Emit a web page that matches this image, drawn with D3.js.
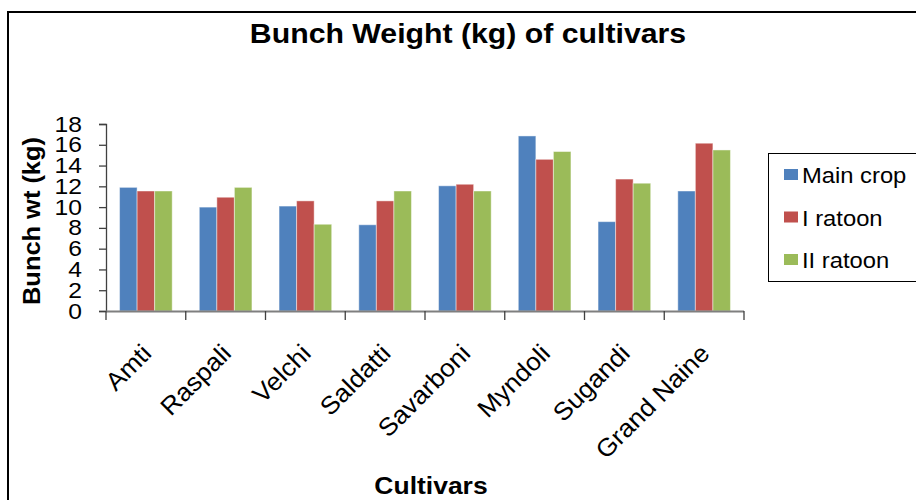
<!DOCTYPE html>
<html>
<head>
<meta charset="utf-8">
<script src="https://cdn.jsdelivr.net/npm/d3@7"></script>
<style>
	body { margin: 0; background: #fff; }
	text { font-family: "Liberation Sans", Arial, sans-serif; fill: #000; }
</style>
</head>
<body>
<div id="chart"></div>
<script>
var cultivars = ["Amti", "Raspali", "Velchi", "Saldatti", "Savarboni", "Myndoli", "Sugandi", "Grand Naine"];
var seriesNames = ["Main crop", "I ratoon", "II ratoon"];
var mainCrop = [11.9, 10.0, 10.1, 8.3, 12.05, 16.85, 8.6, 11.55];
var ratoon1 = [11.55, 10.95, 10.6, 10.6, 12.2, 14.6, 12.7, 16.15];
var ratoon2 = [11.55, 11.9, 8.35, 11.55, 11.55, 15.35, 12.3, 15.5];
var yTicks = [0, 2, 4, 6, 8, 10, 12, 14, 16, 18];
var colors = ["#4f81bd", "#c0504d", "#9bbb59"];

var seriesValues = [mainCrop, ratoon1, ratoon2];

var width = 916, height = 500;
var margin = { top: 124, right: 172, bottom: 189, left: 106 };
var SX = 1.08; // the reference text is a little wider than its height suggests

var svg = d3.select("#chart").append("svg")
	.attr("width", width)
	.attr("height", height);

// widen a text by a factor
function stretch(sel, k) {
	sel.each(function() {
		var len = this.getComputedTextLength();
		d3.select(this)
			.attr("textLength", len * (k || SX))
			.attr("lengthAdjust", "spacingAndGlyphs");
	});
}

// frame
svg.append("rect")
	.attr("x", 8)
	.attr("y", 12)
	.attr("width", 1000)
	.attr("height", 1000)
	.attr("fill", "none")
	.attr("stroke", "#000")
	.attr("stroke-width", 2);

var x = d3.scaleBand()
	.domain(cultivars)
	.range([margin.left, width - margin.right])
	.paddingInner(0.34)
	.paddingOuter(0.17);

var xs = d3.scaleBand()
	.domain(seriesNames)
	.range([0, x.bandwidth()]);

var y = d3.scaleLinear()
	.domain([0, 18])
	.range([height - margin.bottom, margin.top]);

// bars
var groups = svg.selectAll(".group")
	.data(cultivars)
	.enter().append("g")
	.attr("class", "group")
	.attr("transform", function(d) { return "translate(" + x(d) + ",0)"; });

groups.selectAll("rect")
	.data(function(d, i) {
		return seriesNames.map(function(s, j) { return { series: s, idx: j, value: seriesValues[j][i] }; });
	})
	.enter().append("rect")
	.attr("x", function(d) { return xs(d.series); })
	.attr("y", function(d) { return y(d.value); })
	.attr("width", xs.bandwidth())
	.attr("height", function(d) { return y(0) - y(d.value); })
	.attr("fill", function(d) { return colors[d.idx]; })
	.attr("stroke", "rgba(255,255,255,0.45)")
	.attr("stroke-width", 1);

// y axis
var yAxis = svg.append("g")
	.attr("class", "axis axis--y")
	.attr("transform", "translate(" + margin.left + ",0)")
	.call(d3.axisLeft(y).tickValues(yTicks).tickSize(7).tickPadding(17));

yAxis.select(".domain").attr("stroke", "#404040").attr("stroke-width", 1.3);
yAxis.selectAll(".tick line").attr("stroke", "#404040").attr("stroke-width", 1.3);
yAxis.selectAll(".tick text")
	.attr("font-size", 22)
	.attr("font-family", "'Liberation Sans', Arial, sans-serif")
	.attr("fill", "#000")
	.call(stretch, 1.12);

// x axis: line and ticks at category boundaries
var gap = (x.step() - x.bandwidth()) / 2;
var bounds = cultivars.map(function(c) { return x(c) - gap; }).concat([x.range()[1]]);
var xAxis = svg.append("g").attr("class", "axis axis--x");

xAxis.append("line")
	.attr("x1", x.range()[0])
	.attr("x2", x.range()[1])
	.attr("y1", y(0) + 0.5)
	.attr("y2", y(0) + 0.5)
	.attr("stroke", "#7f7f7f")
	.attr("stroke-width", 2);

xAxis.selectAll(".tick")
	.data(bounds)
	.enter().append("line")
	.attr("class", "tick")
	.attr("x1", function(d) { return d; })
	.attr("x2", function(d) { return d; })
	.attr("y1", y(0))
	.attr("y2", y(0) + 9)
	.attr("stroke", "#404040")
	.attr("stroke-width", 1.3);

xAxis.selectAll(".label")
	.data(cultivars)
	.enter().append("text")
	.attr("class", "label")
	.attr("transform", function(d) { return "translate(" + (x(d) + x.bandwidth() / 2 + 7) + "," + (y(0) + 44) + ") rotate(-45)"; })
	.attr("text-anchor", "end")
	.attr("font-size", 25)
	.text(function(d) { return d; })
	.call(stretch, 1.05);

// titles
svg.append("text")
	.attr("x", 468)
	.attr("y", 43)
	.attr("text-anchor", "middle")
	.attr("font-size", 28)
	.attr("font-weight", "bold")
	.text("Bunch Weight (kg) of cultivars")
	.call(stretch);

svg.append("text")
	.attr("x", 431)
	.attr("y", 494)
	.attr("text-anchor", "middle")
	.attr("font-size", 24.5)
	.attr("font-weight", "bold")
	.text("Cultivars")
	.call(stretch);

svg.append("text")
	.attr("transform", "translate(40,221) rotate(-90)")
	.attr("text-anchor", "middle")
	.attr("font-size", 24)
	.attr("font-weight", "bold")
	.attr("textLength", 168)
	.attr("lengthAdjust", "spacingAndGlyphs")
	.text("Bunch wt (kg)");

// legend
var legend = svg.append("g").attr("class", "legend");

legend.append("rect")
	.attr("x", 768.5)
	.attr("y", 153.5)
	.attr("width", 200)
	.attr("height", 128)
	.attr("fill", "#fff")
	.attr("stroke", "#000")
	.attr("stroke-width", 1);

var items = legend.selectAll(".item")
	.data(seriesNames)
	.enter().append("g")
	.attr("class", "item")
	.attr("transform", function(d, i) { return "translate(784," + (183 + i * 42.5) + ")"; });

items.append("rect")
	.attr("x", 0)
	.attr("y", -14)
	.attr("width", 14)
	.attr("height", 11)
	.attr("fill", function(d, i) { return colors[i]; });

items.append("text")
	.attr("x", 18)
	.attr("y", 0)
	.attr("font-size", 22)
	.text(function(d) { return d; })
	.call(stretch);
</script>
</body>
</html>
